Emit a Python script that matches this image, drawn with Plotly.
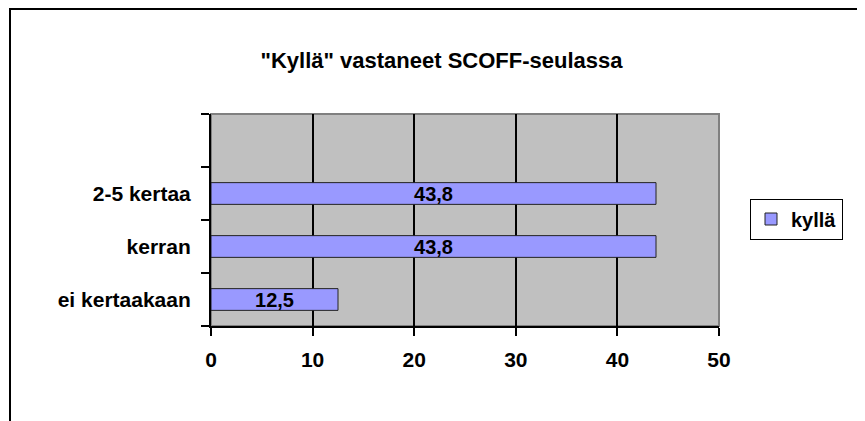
import plotly.graph_objects as go

categories = ["ei kertaakaan", "kerran", "2-5 kertaa", " "]
values = [12.5, 43.8, 43.8]
series_name = "kyllä"
title_text = "\"Kyllä\" vastaneet SCOFF-seulassa"
x_ticks = [0, 10, 20, 30, 40, 50]

FONT = "Liberation Sans, Arial, sans-serif"

fig = go.Figure()
fig.add_trace(go.Bar(
    x=values,
    y=categories[:3],
    orientation="h",
    name=series_name,
    marker=dict(color="#9999FF", line=dict(color="#222222", width=1)),
    text=values,
    texttemplate="%{x:.1f}",
    textposition="inside",
    insidetextanchor="middle",
    constraintext="none",
    textfont=dict(family=FONT, size=20, color="black", weight="bold"),
    showlegend=True,
))

# page body has an 8px margin; figure coordinates = screenshot - 8
OFF = 8
W, H = 865, 421
L = 211 - OFF
T = 114 - OFF
R = W - (719 - OFF)
B = H - (326 - OFF)
pw, ph = W - L - R, H - T - B

def px_to_paper_x(px):
    return (px - OFF - L) / pw

def px_to_paper_y(py):
    return (H - B - (py - OFF)) / ph

fig.update_layout(
    width=W, height=H,
    margin=dict(l=L, r=R, t=T, b=B, pad=0),
    paper_bgcolor="white",
    plot_bgcolor="#C0C0C0",
    separators=", ",
    bargap=0.59,
    font=dict(family=FONT, size=21, color="black", weight="bold"),
    title=dict(
        text=title_text,
        x=(441.5 - OFF) / W, xanchor="center",
        y=1 - (60 - OFF) / H, yanchor="middle",
        yref="container", xref="container",
        font=dict(family=FONT, size=22, color="black", weight="bold"),
    ),
    xaxis=dict(
        range=[0, 50],
        tickvals=x_ticks,
        showgrid=True, gridcolor="black", gridwidth=2,
        showline=True, linecolor="black", linewidth=2,
        ticks="outside", ticklen=8, tickwidth=2, tickcolor="black",
        ticklabelstandoff=6,
        zeroline=False,
        tickfont=dict(family=FONT, size=21, color="black", weight="bold"),
    ),
    yaxis=dict(
        type="category",
        categoryorder="array", categoryarray=categories,
        range=[-0.5, 3.5],
        tickson="boundaries",
        showgrid=False,
        showline=True, linecolor="black", linewidth=2,
        ticks="outside", ticklen=8, tickwidth=2, tickcolor="black",
        ticklabelstandoff=14,
        zeroline=False,
        tickfont=dict(family=FONT, size=21, color="black", weight="bold"),
    ),
    legend=dict(
        x=px_to_paper_x(750), xanchor="left",
        y=px_to_paper_y(219), yanchor="middle",
        bordercolor="black", borderwidth=1,
        bgcolor="white",
        font=dict(family=FONT, size=20, color="black", weight="bold"),
    ),
    shapes=[
        dict(type="rect", xref="paper", yref="paper",
             x0=0, x1=1, y0=0, y1=1,
             line=dict(color="#808080", width=2),
             fillcolor="#C0C0C0", layer="below"),
        dict(type="rect", xref="paper", yref="paper",
             x0=px_to_paper_x(10), x1=px_to_paper_x(890),
             y0=px_to_paper_y(450), y1=px_to_paper_y(9),
             line=dict(color="black", width=2),
             fillcolor="rgba(0,0,0,0)", layer="above"),
    ],
)

fig.write_html("out.html")
